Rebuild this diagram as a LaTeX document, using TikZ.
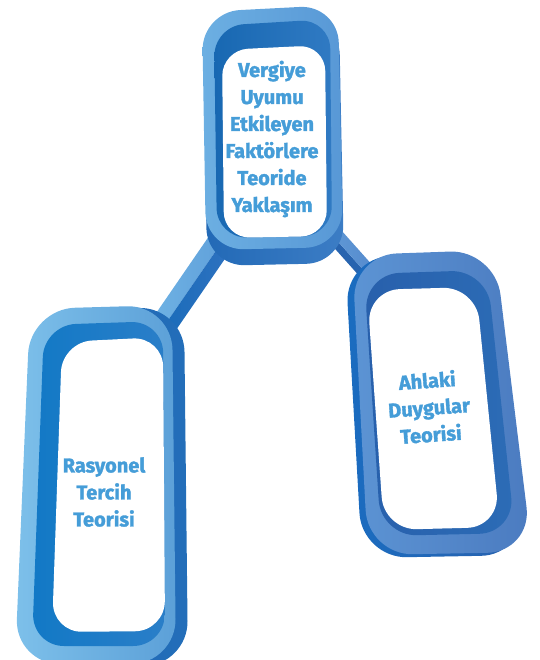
\documentclass[tikz,border=0pt]{standalone}
\usepackage{fontspec}
\setmainfont{Fira Sans}
\newfontfamily\lblfont{Fira Sans}[BoldFeatures={FakeBold=1.6}]
\definecolor{txt}{HTML}{459DD8}
\definecolor{lbeamL}{RGB}{110,178,228}
\definecolor{lbeamR}{RGB}{96,160,218}
\definecolor{lbeamDL}{RGB}{26,108,186}
\definecolor{lbeamDR}{RGB}{48,114,192}
\definecolor{rbeamD}{RGB}{40,100,175}
\definecolor{rbeamL}{RGB}{96,154,214}
\definecolor{rbeamR}{RGB}{84,136,204}
\definecolor{tWallL}{RGB}{34,105,182}
\definecolor{tWallR}{RGB}{60,125,197}
\definecolor{tRimL}{RGB}{108,175,226}
\definecolor{tRimR}{RGB}{88,152,214}
\definecolor{tInL}{RGB}{24,104,178}
\definecolor{tInR}{RGB}{48,122,195}
\definecolor{lWallL}{RGB}{30,100,180}
\definecolor{lWallR}{RGB}{35,110,185}
\definecolor{lRimL}{RGB}{125,192,234}
\definecolor{lRimR}{RGB}{92,160,216}
\definecolor{lInL}{RGB}{18,121,198}
\definecolor{lInR}{RGB}{42,126,200}
\definecolor{rWallL}{RGB}{26,108,192}
\definecolor{rWallR}{RGB}{42,98,174}
\definecolor{rRimL}{RGB}{92,148,212}
\definecolor{rRimR}{RGB}{75,123,192}
\definecolor{rInL}{RGB}{40,96,172}
\definecolor{rInR}{RGB}{44,108,182}
\begin{document}
\begin{tikzpicture}[x=1pt,y=-1pt,
  lbl/.style={font=\lblfont\fontsize{20}{27}\selectfont\bfseries, text=txt, align=center, inner sep=0pt},
  whiteface/.style={fill=white}]
\useasboundingbox (0,0) rectangle (539,660);

% ---- beams (behind boxes) ----
\coordinate (lb1) at (216,226);
\coordinate (lb2) at (150,322);
\shade[left color=lbeamL, right color=lbeamR]
  (lb1) -- (lb2) -- (161.5,329.9) -- (227.5,233.9) -- cycle;
\shade[left color=lbeamDL, right color=lbeamDR]
  (227.5,233.9) -- (161.5,329.9) -- (171.4,336.7) -- (237.4,240.7) -- cycle;

\coordinate (rb1) at (320,232);
\coordinate (rb2) at (370,288);
\fill[rbeamD]
  (rb1) -- (rb2) -- (375.2,283.3) -- (325.2,227.3) -- cycle;
\shade[left color=rbeamL, right color=rbeamR]
  (325.2,227.3) -- (375.2,283.3) -- (382.7,276.7) -- (332.7,220.7) -- cycle;

% ---- top box ----
\shade[rounded corners=38pt, left color=tWallL, right color=tWallR]
  (203,24) -- (339,17) -- (344,263) -- (207,266) -- cycle;
\shade[rounded corners=38pt, left color=tRimL, right color=tRimR]
  (202,12) -- (338,5) -- (343,247) -- (206,250) -- cycle;
\shade[rounded corners=30pt, left color=tInL, right color=tInR]
  (214,26) -- (330,19) -- (332,236) -- (217,238) -- cycle;
\fill[whiteface, rounded corners=26pt]
  (222,50) -- (325,45) -- (327,236) -- (224,238) -- cycle;

% ---- left box ----
\shade[rounded corners=45pt, left color=lWallL, right color=lWallR]
  (42,310) -- (184,307) -- (188,666) -- (26,666) -- cycle;
\shade[rounded corners=45pt, left color=lRimL, right color=lRimR]
  (30,309) -- (172,305) -- (176,664) -- (15,664) -- cycle;
\shade[rounded corners=32pt, left color=lInL, right color=lInR]
  (44,325) -- (163,321) -- (165,646) -- (32,646) -- cycle;
\fill[whiteface, rounded corners=30pt]
  (62,342) -- (163,337) -- (165,631) -- (52,632) -- cycle;

% ---- right box ----
\shade[rounded corners=45pt, left color=rWallL, right color=rWallR]
  (345,258) -- (489,252) -- (526,555) -- (362,558) -- cycle;
\shade[rounded corners=45pt, left color=rRimL, right color=rRimR]
  (352,255) -- (495,250) -- (532,552) -- (368,555) -- cycle;
\shade[rounded corners=36pt, left color=rInL, right color=rInR]
  (364,274) -- (487,270) -- (515,533) -- (381,536) -- cycle;
\fill[whiteface, rounded corners=33pt]
  (367,290) -- (476,287) -- (500,527) -- (384,530) -- cycle;

% ---- texts ----
\node[lbl] (top) at (272,139) {Vergiye\\Uyumu\\Etkileyen\\Faktörlere\\Teoride\\Yaklaşım};
\node[lbl] (left) at (104,492) {Rasyonel\\Tercih\\Teorisi};
\node[lbl, rotate=4] (right) at (429,407) {Ahlaki\\Duygular\\Teorisi};
\end{tikzpicture}
\end{document}
